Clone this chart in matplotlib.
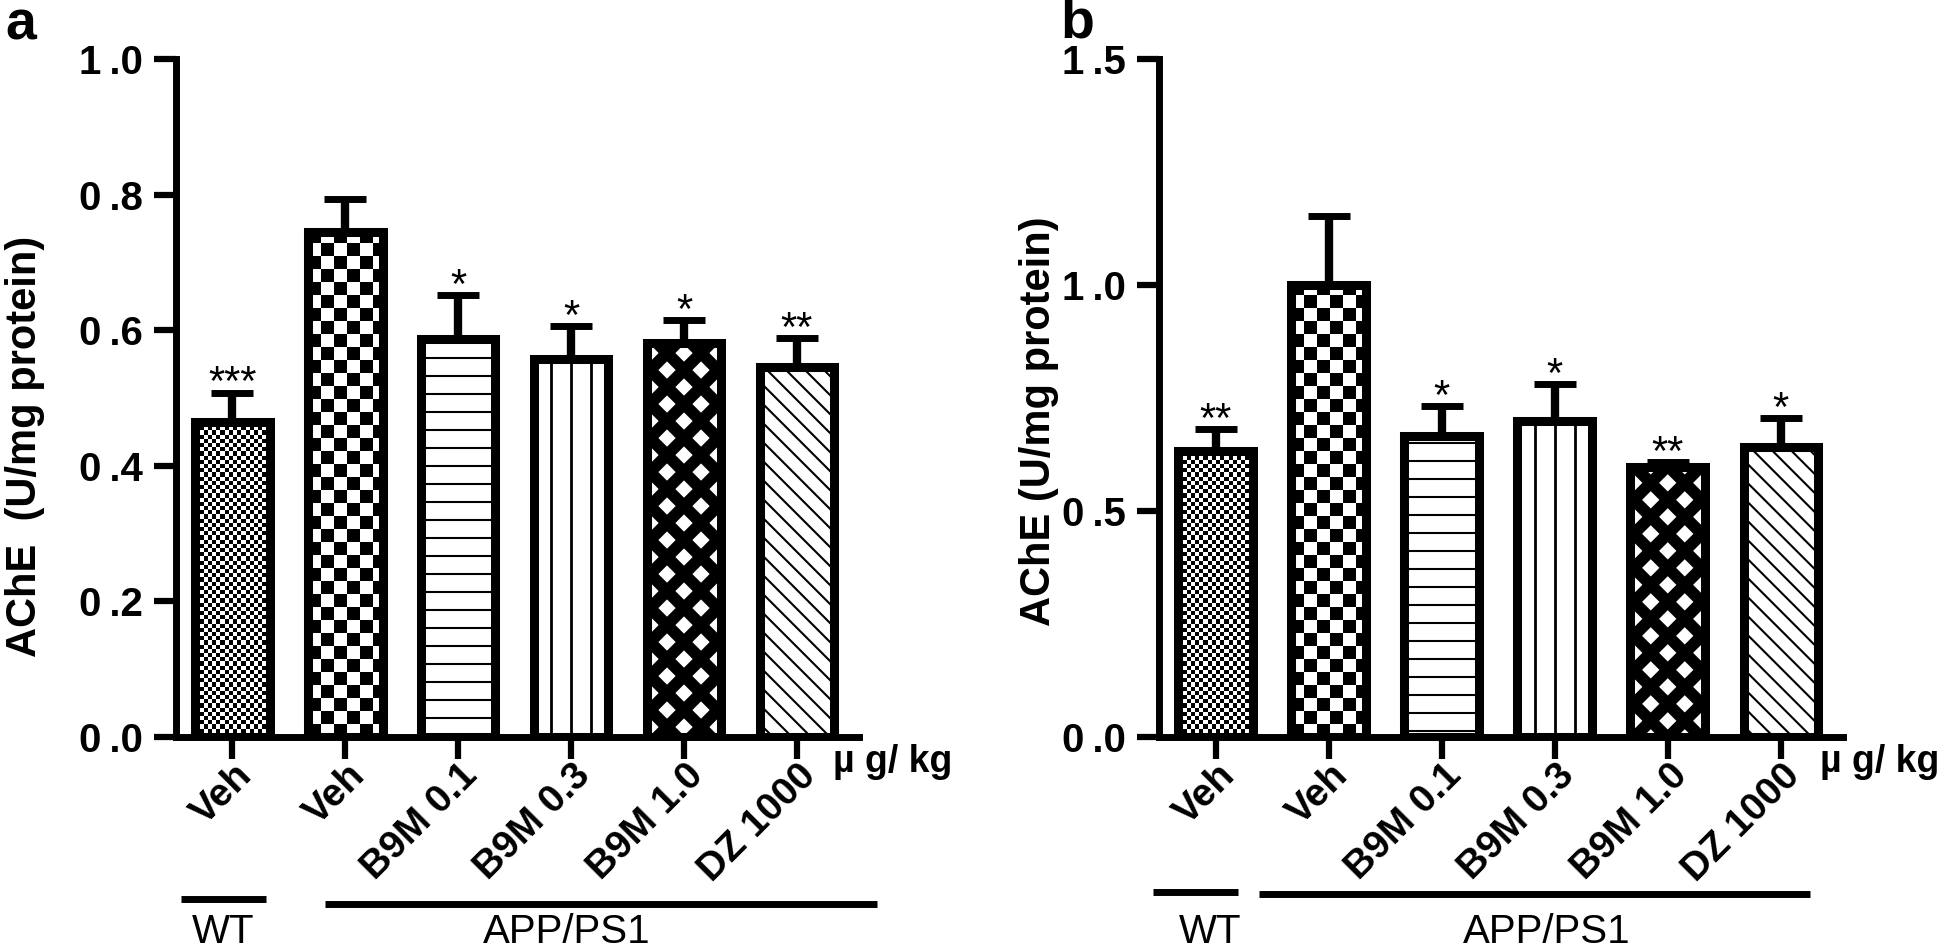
import numpy as np
import matplotlib
matplotlib.use('Agg')
import matplotlib.pyplot as plt
from matplotlib.collections import LineCollection, PatchCollection
from matplotlib.patches import Rectangle
from matplotlib.transforms import IdentityTransform, ScaledTranslation, TransformedPatchPath

plt.rcParams['font.family'] = ['Liberation Sans', 'DejaVu Sans']

groups = ['Veh', 'Veh', 'B9M 0.1', 'B9M 0.3', 'B9M 1.0', 'DZ 1000']

a_mean = [0.465, 0.745, 0.587, 0.558, 0.581, 0.546]
a_sem = [0.043, 0.049, 0.065, 0.048, 0.034, 0.042]
a_stars = ['***', '', '*', '*', '*', '**']
a_ticks = [0.0, 0.2, 0.4, 0.6, 0.8, 1.0]

b_mean = [0.632, 1.001, 0.665, 0.700, 0.598, 0.641]
b_sem = [0.049, 0.152, 0.067, 0.080, 0.011, 0.064]
b_stars = ['**', '', '*', '*', '**', '*']
b_ticks = [0.0, 0.5, 1.0, 1.5]

fills = ['fine', 'coarse', 'hlines', 'vlines', 'cross', 'diag']


def checker(ax, bar, size):
    bb = bar.get_window_extent()
    nx = int(np.ceil(bb.width / size)) + 1
    ny = int(np.ceil(bb.height / size)) + 1
    sq = []
    for i in range(nx):
        for j in range(ny):
            if (i + j) % 2 == 0:
                sq.append(Rectangle((bb.x0 + i * size, bb.y0 + j * size), size, size))
    pc = PatchCollection(sq, facecolor='black', edgecolor='none',
                         transform=IdentityTransform(), zorder=1.5)
    pc.set_antialiased(False)
    pc.set_clip_path(TransformedPatchPath(bar))
    ax.add_collection(pc, autolim=False)


def lines(ax, bar, angles, step, lw):
    bb = bar.get_window_extent()
    c = np.array([bb.x0 + bb.width / 2, bb.y0 + bb.height / 2])
    r = np.hypot(bb.width, bb.height)
    segs = []
    for ang in angles:
        t = np.deg2rad(ang)
        d = np.array([np.cos(t), np.sin(t)]) * r
        n = np.array([-np.sin(t), np.cos(t)])
        for k in np.arange(-int(r / step) - 1, int(r / step) + 2):
            p = c + k * step * n
            segs.append([p - d, p + d])
    lc = LineCollection(segs, colors='black', linewidths=lw,
                        transform=IdentityTransform(), zorder=1.5)
    lc.set_clip_path(TransformedPatchPath(bar))
    ax.add_collection(lc, autolim=False)


def panel(ax, means, sems, stars, ticks, ylabel, ylab_xy, grp):
    x = np.arange(len(groups))
    ax.set_xlim(-0.5, 5.55)
    ax.set_ylim(0, ticks[-1])

    base = ax.bar(x, means, width=0.66, color='white', edgecolor='none', zorder=1)
    for bar, f in zip(base, fills):
        if f == 'fine':
            checker(ax, bar, 4.2)
        elif f == 'coarse':
            checker(ax, bar, 13)
        elif f == 'hlines':
            lines(ax, bar, [0], 18, 1.5)
        elif f == 'vlines':
            lines(ax, bar, [90], 20, 2.0)
        elif f == 'cross':
            lines(ax, bar, [45, -45], 34 * 0.7071, 8.5)
        elif f == 'diag':
            lines(ax, bar, [-45], 19 * 0.7071, 1.5)
    ax.bar(x, means, width=0.66, facecolor='none', edgecolor='black',
           linewidth=6.5, joinstyle='miter', zorder=2.5)

    ax.errorbar(x, means, yerr=[np.zeros(len(x)), sems], fmt='none', ecolor='black',
                elinewidth=6, capsize=15, capthick=5, zorder=3)

    for xi, m, s, st in zip(x, means, sems, stars):
        if st:
            ax.annotate(st, (xi, m + s), xytext=(0, -2), textcoords='offset points',
                        ha='center', va='baseline', fontsize=30)

    for side in ['top', 'right']:
        ax.spines[side].set_visible(False)
    for side in ['left', 'bottom']:
        ax.spines[side].set_linewidth(5)
        ax.spines[side].set_capstyle('projecting')

    ax.set_yticks(ticks)
    ax.set_yticklabels([('%.1f' % t).replace('.', '\u2009.') for t in ticks],
                       fontsize=29, fontweight='bold')
    ax.tick_params(axis='y', length=16, width=4.5, pad=8, direction='out')

    ax.set_xticks(x)
    ax.set_xticklabels(groups, rotation=45, ha='right', va='center',
                       rotation_mode='anchor', fontsize=28, fontweight='bold')
    ax.tick_params(axis='x', length=16, width=4.5, pad=8, direction='out')
    shift = ScaledTranslation(10 / 72, 0, ax.figure.dpi_scale_trans)
    for lab in ax.get_xticklabels():
        lab.set_transform(lab.get_transform() + shift)

    ax.set_ylabel(ylabel, fontsize=30, fontweight='bold', va='center')
    ax.yaxis.set_label_coords(*ylab_xy)

    ax.text(grp['unit'], -0.052, '\u00b5 g/ kg', transform=ax.transAxes,
            fontsize=27, fontweight='bold', ha='left', va='baseline')

    (w0, w1, wy), (p0, p1, py) = grp['lines']
    ax.plot([w0, w1], [wy, wy], transform=ax.transAxes, clip_on=False,
            color='black', lw=5, solid_capstyle='butt')
    ax.plot([p0, p1], [py, py], transform=ax.transAxes, clip_on=False,
            color='black', lw=5, solid_capstyle='butt')
    ax.text(grp['wt'], -0.304, 'WT', transform=ax.transAxes, fontsize=29,
            ha='center', va='baseline')
    ax.text(grp['app'], -0.304, 'APP/PS1', transform=ax.transAxes, fontsize=29,
            ha='center', va='baseline')


fig = plt.figure(figsize=(19.46, 9.49), dpi=100)
ax_a = fig.add_axes([176 / 1946, 1 - 737 / 949, 683 / 1946, 678 / 949])
ax_b = fig.add_axes([1159 / 1946, 1 - 737 / 949, 684 / 1946, 678 / 949])

panel(ax_a, a_mean, a_sem, a_stars, a_ticks, 'AChE  (U/mg protein)', (-0.221, 0.429),
      {'unit': 0.962, 'lines': ((0.007, 0.132, -0.239), (0.218, 1.026, -0.246)),
       'wt': 0.069, 'app': 0.572})
panel(ax_b, b_mean, b_sem, b_stars, b_ticks, 'AChE (U/mg protein)', (-0.175, 0.466),
      {'unit': 0.966, 'lines': ((-0.009, 0.115, -0.229), (0.146, 0.952, -0.232)),
       'wt': 0.075, 'app': 0.567})

fig.text(5 / 1946, 1 - 40 / 949, 'a', fontsize=40, fontweight='bold', va='baseline')
fig.text(1060 / 1946, 1 - 38 / 949, 'b', fontsize=40, fontweight='bold', va='baseline')

fig.savefig('out.png', dpi=100)
